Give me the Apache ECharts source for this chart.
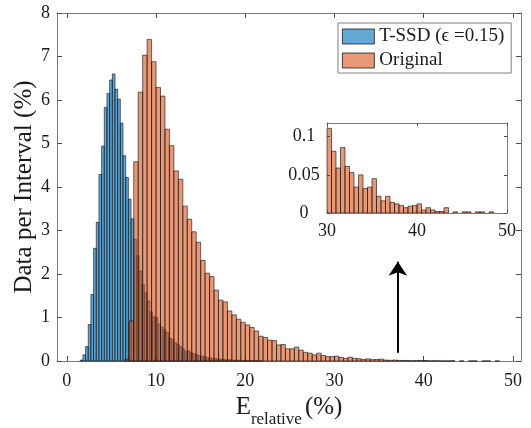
<!DOCTYPE html>
<html>
<head>
<meta charset="utf-8">
<script src="https://cdn.jsdelivr.net/npm/echarts@6/dist/echarts.min.js"></script>
<style>
  html, body { margin: 0; padding: 0; background: #fff; }
  #chart { width: 531px; height: 428px; }
</style>
</head>
<body>
<div id="chart"></div>
<script>
const fontFamily = "'Liberation Serif', 'Times New Roman', serif"

// T-SSD histogram: bins of 0.3 % starting at 1.5 %
const blueName = 'T-SSD (ϵ =0.15)'
const blueStart = 1.5
const blueWidth = 0.3
const blueValues = [
  0.02, 0.14, 0.33, 0.84, 1.53, 2.59, 3.19, 4.29, 4.94, 5.83,
  6.15, 6.46, 6.60, 6.25, 6.02, 5.47, 4.72, 4.22, 3.72, 3.27,
  2.80, 2.42, 2.07, 1.76, 1.57, 1.38, 1.13, 1.02, 1.00, 0.85,
  0.78, 0.72, 0.66, 0.53, 0.50, 0.42, 0.38, 0.33, 0.28, 0.22,
  0.24, 0.20, 0.17, 0.15, 0.12, 0.11, 0.10, 0.08, 0.07, 0.06,
  0.06, 0.05, 0.04, 0.04, 0.03, 0.03, 0.03, 0.02, 0.02, 0.02,
  0.015, 0.01, 0.01, 0.01, 0.008, 0.006, 0.005, 0.004
]

// Original histogram: bins of 0.5 % starting at 6.5 %
const orangeName = 'Original'
const orangeStart = 6.5
const orangeWidth = 0.5
const orangeValues = [
  0.04, 0.92, 4.58, 6.18, 7.03, 7.39, 6.88, 6.29, 6.09, 5.33,
  4.95, 4.37, 4.18, 3.56, 3.26, 2.97, 2.73, 2.31, 2.02, 1.94,
  1.63, 1.40, 1.36, 1.15, 1.06, 0.96, 0.89, 0.83, 0.77, 0.69,
  0.57, 0.54, 0.48, 0.47, 0.37, 0.38, 0.28, 0.28, 0.32, 0.25,
  0.20, 0.18, 0.14, 0.18, 0.13, 0.10, 0.10, 0.111, 0.081, 0.059,
  0.086, 0.061, 0.053, 0.034, 0.050, 0.032, 0.034, 0.045, 0.022, 0.016,
  0.022, 0.014, 0.012, 0.010, 0.007, 0.009, 0.010, 0.012, 0.004, 0.007,
  0.004, 0.002, 0.002, 0.007, 0, 0.0015, 0, 0.0015, 0.0015, 0,
  0.0015, 0.0015, 0, 0.0015
]

const mainXTicks = [0, 10, 20, 30, 40, 50]
const insetYTicks = [0, 0.05, 0.1]
const insetFrom = 30

// arrow pointing at the zoomed tail
const arrowX = 37.1
const arrowFrom = 0.19
const arrowTo = 2.28

const blueFill = 'rgba(0, 114, 189, 0.62)'
const orangeFill = 'rgba(217, 83, 25, 0.6)'
const textColor = '#1a1a1a'
const frameColor = '#7a7a7a'
const tickColor = '#4d4d4d'

function histBars(start, width, values) {
  return values.map((v, i) => [start + i * width, start + (i + 1) * width, v])
}

function barRenderer(fill) {
  return function (params, api) {
    const v = api.value(2)
    if (!v) return null
    const topLeft = api.coord([api.value(0), v])
    const bottomRight = api.coord([api.value(1), 0])
    return {
      type: 'rect',
      shape: {
        x: topLeft[0],
        y: topLeft[1],
        width: bottomRight[0] - topLeft[0],
        height: bottomRight[1] - topLeft[1]
      },
      style: { fill: fill, stroke: 'rgba(0,0,0,0.8)', lineWidth: 0.7 }
    }
  }
}

function frameAxis(extra) {
  return Object.assign({
    type: 'value',
    splitLine: { show: false },
    axisLine: { show: true, onZero: false, lineStyle: { color: frameColor, width: 1 } },
    axisTick: { show: true, inside: true, length: 5, lineStyle: { color: tickColor, width: 1 } },
    axisLabel: { show: false }
  }, extra)
}

const labelStyle = { color: textColor, fontFamily: fontFamily, fontSize: 18 }

const blueBars = histBars(blueStart, blueWidth, blueValues)
const orangeBars = histBars(orangeStart, orangeWidth, orangeValues)
const insetBars = orangeBars.filter(b => b[0] >= insetFrom - 1e-9)

const chart = echarts.init(document.getElementById('chart'))

const option = {
  animation: false,
  backgroundColor: '#fff',
  grid: [
    { left: 57, right: 10, top: 13, bottom: 67, show: false, outerBoundsMode: 'none' },
    { left: 327, top: 123, width: 180, height: 90, show: true, backgroundColor: '#fff', borderWidth: 0, z: 5, outerBoundsMode: 'none' }
  ],
  legend: {
    orient: 'vertical',
    left: 338,
    top: 23,
    padding: [4, 7, 3, 4],
    itemGap: 5,
    itemWidth: 32,
    itemHeight: 15,
    borderColor: '#808080',
    borderWidth: 1,
    borderRadius: 0,
    backgroundColor: '#fff',
    textStyle: { color: textColor, fontFamily: fontFamily, fontSize: 19 },
    data: [
      { name: blueName, icon: 'rect', itemStyle: { color: blueFill, borderColor: '#000', borderWidth: 0.7 } },
      { name: orangeName, icon: 'rect', itemStyle: { color: orangeFill, borderColor: '#000', borderWidth: 0.7 } }
    ]
  },
  xAxis: [
    frameAxis({
      gridIndex: 0, position: 'bottom', min: -1.1, max: 50.9,
      axisTick: { show: true, inside: true, length: 5, customValues: mainXTicks, lineStyle: { color: tickColor } },
      axisLabel: Object.assign({ show: true, margin: 11, customValues: mainXTicks }, labelStyle),
      name: '{e|E}{sub|relative} {e|(%)}',
      nameLocation: 'middle',
      nameGap: 33,
      nameTextStyle: {
        color: textColor,
        fontFamily: fontFamily,
        rich: {
          e: { fontSize: 25, fontFamily: fontFamily, color: textColor, verticalAlign: 'bottom', padding: [0, 0, 8, 0] },
          sub: { fontSize: 17, fontFamily: fontFamily, color: textColor, verticalAlign: 'bottom' }
        }
      }
    }),
    frameAxis({
      gridIndex: 0, position: 'top', min: -1.1, max: 50.9,
      axisTick: { show: true, inside: true, length: 5, customValues: mainXTicks, lineStyle: { color: tickColor } }
    }),
    frameAxis({
      gridIndex: 1, position: 'bottom', min: 30, max: 50, interval: 10, z: 7,
      axisTick: { show: true, inside: true, length: 3, lineStyle: { color: tickColor } },
      axisLabel: Object.assign({ show: true, margin: 9 }, labelStyle)
    }),
    frameAxis({
      gridIndex: 1, position: 'top', min: 30, max: 50, interval: 10, z: 7,
      axisTick: { show: true, inside: true, length: 3, lineStyle: { color: tickColor } }
    })
  ],
  yAxis: [
    frameAxis({
      gridIndex: 0, position: 'left', min: 0, max: 8, interval: 1,
      axisLabel: Object.assign({ show: true, margin: 7 }, labelStyle),
      name: 'Data per Interval (%)',
      nameLocation: 'middle',
      nameGap: 20,
      nameMoveOverlap: false,
      nameTextStyle: { color: textColor, fontFamily: fontFamily, fontSize: 25 }
    }),
    frameAxis({ gridIndex: 0, position: 'right', min: 0, max: 8, interval: 1 }),
    frameAxis({
      gridIndex: 1, position: 'left', min: 0, max: 0.118, z: 7,
      axisTick: { show: true, inside: true, length: 3, customValues: insetYTicks, lineStyle: { color: tickColor } },
      axisLabel: Object.assign({ show: true, margin: 23, align: 'center', customValues: insetYTicks }, labelStyle)
    }),
    frameAxis({
      gridIndex: 1, position: 'right', min: 0, max: 0.118, z: 7,
      axisTick: { show: true, inside: true, length: 3, customValues: insetYTicks, lineStyle: { color: tickColor } }
    })
  ],
  series: [
    {
      name: blueName,
      type: 'custom',
      xAxisIndex: 0,
      yAxisIndex: 0,
      z: 2,
      itemStyle: { color: blueFill },
      encode: { x: [0, 1], y: 2 },
      renderItem: barRenderer(blueFill),
      data: blueBars
    },
    {
      name: orangeName,
      type: 'custom',
      xAxisIndex: 0,
      yAxisIndex: 0,
      z: 2,
      itemStyle: { color: orangeFill },
      encode: { x: [0, 1], y: 2 },
      renderItem: barRenderer(orangeFill),
      data: orangeBars
    },
    {
      name: orangeName + ' (tail)',
      type: 'custom',
      xAxisIndex: 2,
      yAxisIndex: 2,
      z: 6,
      encode: { x: [0, 1], y: 2 },
      renderItem: barRenderer(orangeFill),
      data: insetBars
    },
    {
      type: 'lines',
      coordinateSystem: 'cartesian2d',
      xAxisIndex: 0,
      yAxisIndex: 0,
      z: 3,
      silent: true,
      symbol: ['none', 'arrow'],
      symbolSize: 14,
      lineStyle: { color: '#000', width: 2, opacity: 1 },
      data: [{ coords: [[arrowX, arrowFrom], [arrowX, arrowTo]] }]
    }
  ]
}

chart.setOption(option)
</script>
</body>
</html>
